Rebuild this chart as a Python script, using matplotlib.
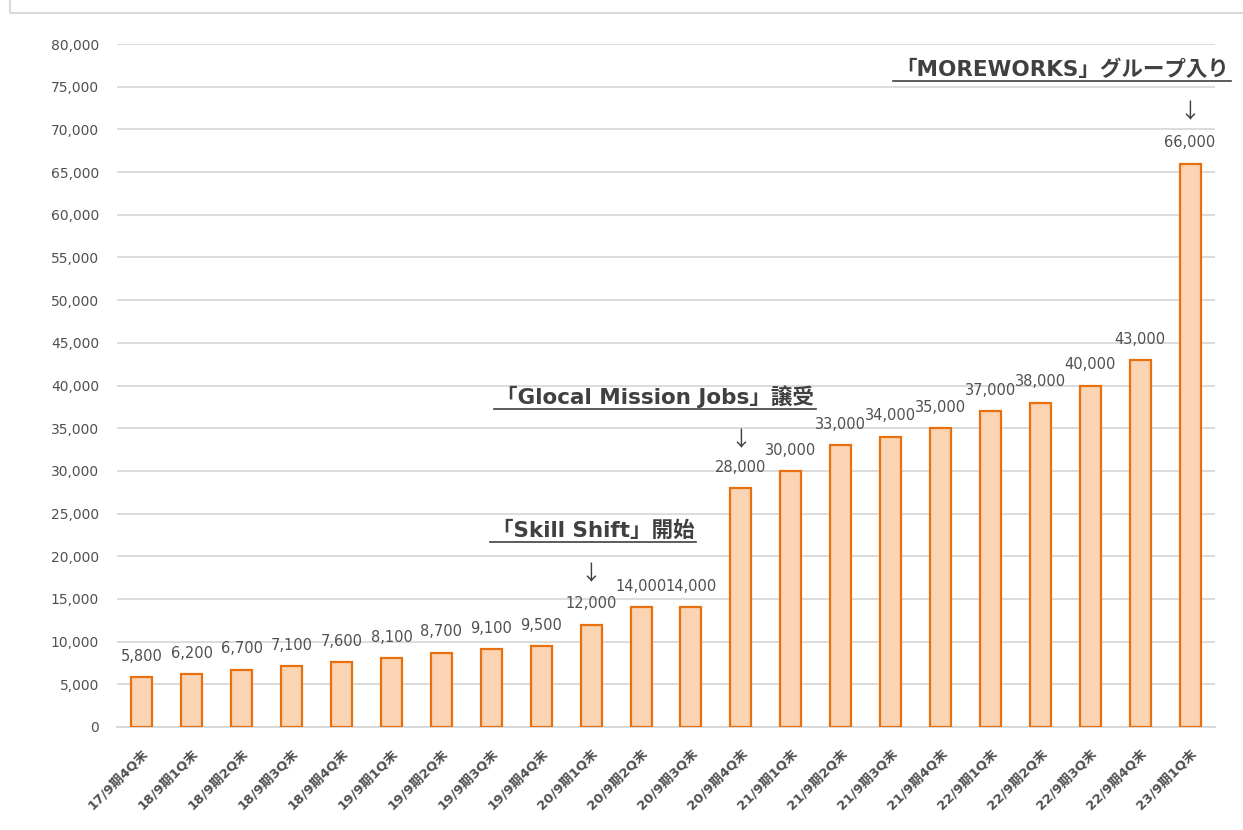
import matplotlib
matplotlib.use("Agg")
import matplotlib.pyplot as plt
from matplotlib.patches import Rectangle
from matplotlib.lines import Line2D

FAM = ['DejaVu Sans', 'Noto Sans CJK JP']
plt.rcParams['font.family'] = FAM

categories = ["17/9期4Q末", "18/9期1Q末", "18/9期2Q末", "18/9期3Q末", "18/9期4Q末",
              "19/9期1Q末", "19/9期2Q末", "19/9期3Q末", "19/9期4Q末", "20/9期1Q末",
              "20/9期2Q末", "20/9期3Q末", "20/9期4Q末", "21/9期1Q末", "21/9期2Q末",
              "21/9期3Q末", "21/9期4Q末", "22/9期1Q末", "22/9期2Q末", "22/9期3Q末",
              "22/9期4Q末", "23/9期1Q末"]
values = [5800, 6200, 6700, 7100, 7600, 8100, 8700, 9100, 9500, 12000,
          14000, 14000, 28000, 30000, 33000, 34000, 35000, 37000, 38000, 40000,
          43000, 66000]
yticks = list(range(0, 80001, 5000))

events = [
    ("「Skill Shift」開始", 9.04, 23000, 17900),
    ("「Glocal Mission Jobs」譲受", 10.28, 38650, 33600),
    ("「MOREWORKS」グループ入り", 18.44, 76950, 72050),
]
event_bar = [9, 12, 21]

W, H = 1243, 830
fig = plt.figure(figsize=(W / 100, H / 100), dpi=100)
fig.patch.set_facecolor('white')

fig.patches.append(Rectangle((10 / W, 1 - 13 / H), 2, 2, transform=fig.transFigure,
                             fill=False, edgecolor='#D9D9D9', linewidth=1.5))

ax = fig.add_axes([117 / W, 1 - 727 / H, (1215 - 117) / W, (727 - 44) / H])
x = list(range(len(categories)))
ax.bar(x, values, width=0.42, color='#FBD4B4', edgecolor='#E8700F', linewidth=1.6, zorder=3)
ax.set_xlim(-0.5, len(categories) - 0.5)
ax.set_ylim(0, 80000)
ax.set_yticks(yticks)
ax.set_yticklabels([f"{v:,}" for v in yticks], fontsize=10, color='#505050')
ax.set_xticks(x)
ax.set_xticklabels(categories, rotation=45, ha='right', rotation_mode='anchor',
                   fontsize=9.5, color='#505050', fontweight='bold')
ax.tick_params(axis='both', length=0)
ax.tick_params(axis='y', pad=13)
ax.tick_params(axis='x', pad=14)
ax.grid(axis='y', color='#D9D9D9', linewidth=1.3, zorder=0)
for s in ['top', 'right', 'left']:
    ax.spines[s].set_visible(False)
ax.spines['bottom'].set_color('#D9D9D9')
ax.spines['bottom'].set_linewidth(1.5)

for xi, v in zip(x, values):
    ax.annotate(f"{v:,}", (xi, v), xytext=(0, 15), textcoords='offset points',
                ha='center', va='center', fontsize=10.5, color='#505050', zorder=4)

texts = []
for (label, tx, ty, ay), bi in zip(events, event_bar):
    t = ax.text(tx, ty, label, ha='center', va='center', fontsize=15.5,
                fontweight='bold', color='#404040', clip_on=False)
    texts.append(t)
    ax.text(bi, ay, "↓", ha='center', va='center', fontsize=15, color='#404040',
            family=['Noto Sans CJK JP'])

fig.canvas.draw()
r = fig.canvas.get_renderer()
for t in texts:
    bb = t.get_window_extent(renderer=r)
    y0 = bb.y0 - 1
    fig.add_artist(Line2D([(bb.x0 - 2) / W, (bb.x1 + 2) / W], [y0 / H, y0 / H],
                          transform=fig.transFigure, color='#404040', linewidth=1.2))

fig.savefig("out.png", dpi=100)
